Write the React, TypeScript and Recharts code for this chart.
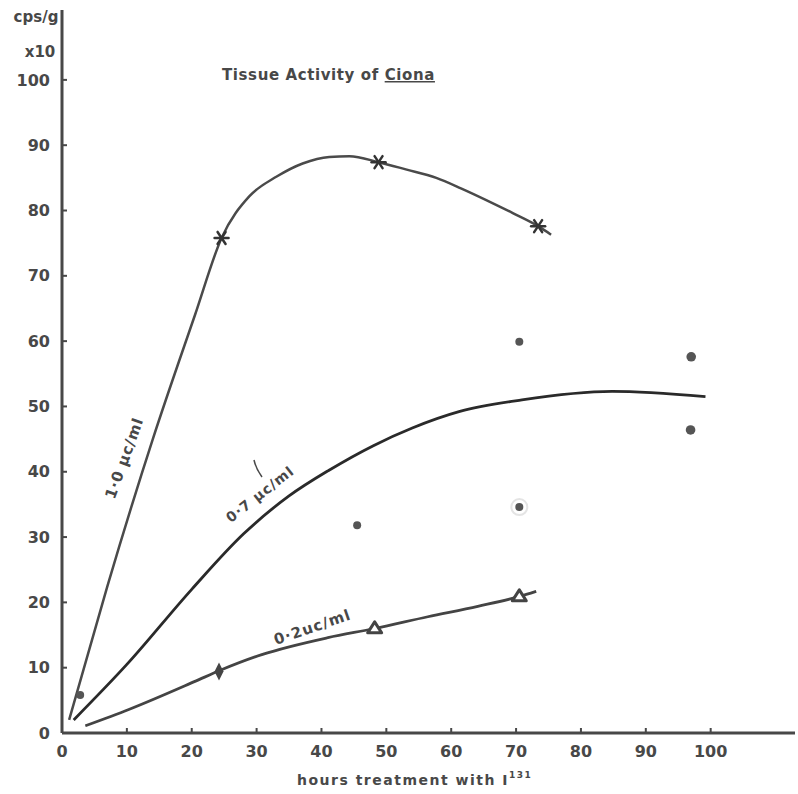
import { ComposedChart, Line, Scatter, XAxis, YAxis } from 'recharts';

// hours after start of treatment vs tissue activity (cps/g x10)
const curveHigh = [
  { x: 1.1, y: 2 }, { x: 7, y: 22.5 }, { x: 14, y: 45 }, { x: 20.5, y: 64 },
  { x: 24.6, y: 75.8 }, { x: 28.9, y: 82.2 }, { x: 33.1, y: 85.2 }, { x: 37.1, y: 87.2 },
  { x: 41.2, y: 88.2 }, { x: 44.3, y: 88.3 }, { x: 48.8, y: 87.4 }, { x: 53, y: 86.3 },
  { x: 57.7, y: 85 }, { x: 61.5, y: 83.4 }, { x: 65.4, y: 81.6 }, { x: 69.5, y: 79.6 },
  { x: 73.4, y: 77.6 }, { x: 75.4, y: 76.3 },
];
const curveMid = [
  { x: 1.8, y: 2 }, { x: 10, y: 10.5 }, { x: 20, y: 22 }, { x: 28, y: 30.5 },
  { x: 35, y: 36.3 }, { x: 41.1, y: 40.2 }, { x: 48, y: 44 }, { x: 54, y: 46.7 },
  { x: 61.2, y: 49.2 }, { x: 70.9, y: 51 }, { x: 84.8, y: 52.3 }, { x: 99.2, y: 51.5 },
];
const curveLow = [
  { x: 3.6, y: 1.1 }, { x: 10.3, y: 3.6 }, { x: 20.5, y: 7.9 }, { x: 24.4, y: 9.6 },
  { x: 30.8, y: 12 }, { x: 41, y: 14.6 }, { x: 48.2, y: 16 }, { x: 56.4, y: 17.8 },
  { x: 64.1, y: 19.4 }, { x: 70.5, y: 20.9 }, { x: 73.1, y: 21.7 },
];

const starPoints = [{ x: 24.6, y: 75.8 }, { x: 48.8, y: 87.4 }, { x: 73.4, y: 77.6 }];
const trianglePoints = [{ x: 48.2, y: 16.1 }, { x: 70.5, y: 21 }];
const diamondPoints = [{ x: 24.2, y: 9.4 }];
const dotPoints = [
  { x: 2.8, y: 5.8 }, { x: 45.5, y: 31.8 }, { x: 70.5, y: 59.9 },
  { x: 70.5, y: 34.6 }, { x: 97, y: 57.6 }, { x: 96.9, y: 46.4 },
];

const xTicks = [0, 10, 20, 30, 40, 50, 60, 70, 80, 90, 100];
const yTicks = [0, 10, 20, 30, 40, 50, 60, 70, 80, 90, 100];

const INK = '#484848';
const FONT = '"DejaVu Sans", sans-serif';

const Star = ({ cx, cy }: any) => (
  <g stroke="#333" strokeWidth={2.5} strokeLinecap="round">
    <line x1={cx - 7} y1={cy} x2={cx + 7} y2={cy} />
    <line x1={cx - 4} y1={cy - 6} x2={cx + 4} y2={cy + 6} />
    <line x1={cx + 4} y1={cy - 6} x2={cx - 4} y2={cy + 6} />
  </g>
);

const Triangle = ({ cx, cy }: any) => (
  <path d={`M${cx},${cy - 6} L${cx + 7},${cy + 5} L${cx - 7},${cy + 5} Z`} fill="#fff" stroke="#444" strokeWidth={3} strokeLinejoin="round" />
);

const Diamond = ({ cx, cy }: any) => (
  <path d={`M${cx},${cy - 9} L${cx + 4.5},${cy} L${cx},${cy + 9} L${cx - 4.5},${cy} Z`} fill="#444" />
);

const Dot = ({ cx, cy, index }: any) => (
  <g>
    {index === 3 && <circle cx={cx} cy={cy} r={8} fill="none" stroke="#e4e4e4" strokeWidth={2} />}
    <circle cx={cx} cy={cy} r={index >= 4 ? 4.8 : 4} fill="#555" />
  </g>
);

const tickStyle = { fill: INK, fontFamily: FONT, fontWeight: 700, fontSize: 16 };

export default function App() {
  return (
    <div style={{ position: 'absolute', left: 0, top: 0, width: 798, height: 794, background: '#fff' }}>
      <ComposedChart width={798} height={794} margin={{ top: 10, right: 3, bottom: 0, left: 0 }}>
        <XAxis
          type="number"
          dataKey="x"
          domain={[0, 113]}
          ticks={xTicks}
          allowDataOverflow
          height={61}
          tickSize={-5}
          tickMargin={18}
          tick={tickStyle}
          axisLine={{ stroke: INK, strokeWidth: 3 }}
          tickLine={{ stroke: INK, strokeWidth: 2 }}
        />
        <YAxis
          type="number"
          dataKey="y"
          domain={[0, 110.7]}
          ticks={yTicks}
          allowDataOverflow
          width={62}
          tickSize={-5}
          tickMargin={17}
          tick={tickStyle}
          axisLine={{ stroke: INK, strokeWidth: 3 }}
          tickLine={{ stroke: INK, strokeWidth: 2 }}
        />
        <Line data={curveHigh} dataKey="y" type="monotone" stroke="#4a4a4a" strokeWidth={2.5} dot={false} isAnimationActive={false} />
        <Line data={curveMid} dataKey="y" type="monotone" stroke="#2a2a2a" strokeWidth={2.8} dot={false} isAnimationActive={false} />
        <Line data={curveLow} dataKey="y" type="monotone" stroke="#444" strokeWidth={2.8} dot={false} isAnimationActive={false} />
        <Scatter data={starPoints} shape={<Star />} isAnimationActive={false} />
        <Scatter data={trianglePoints} shape={<Triangle />} isAnimationActive={false} />
        <Scatter data={diamondPoints} shape={<Diamond />} isAnimationActive={false} />
        <Scatter data={dotPoints} shape={(p: any) => <Dot {...p} />} isAnimationActive={false} />
      </ComposedChart>
      <svg width={798} height={794} style={{ position: 'absolute', left: 0, top: 0, pointerEvents: 'none' }}>
        <g fill={INK} fontFamily={FONT} fontWeight={700}>
          <text x={36} y={22} fontSize={15} textAnchor="middle">cps/g</text>
          <text x={40} y={57} fontSize={15} textAnchor="middle">x10</text>
          <text x={222} y={80} fontSize={15} letterSpacing={0.6}>
            Tissue Activity of <tspan textDecoration="underline">Ciona</tspan>
          </text>
          <text x={297} y={785} fontSize={14} letterSpacing={1.5}>
            hours treatment with I<tspan fontSize={9} dy={-7}>131</tspan>
          </text>
          <text x={129} y={460} fontSize={15} letterSpacing={0.8} textAnchor="middle" transform="rotate(-70 129 460)">1·0 µc/ml</text>
          <text x={263} y={498} fontSize={14} letterSpacing={1} textAnchor="middle" transform="rotate(-38 263 498)">0·7 µc/ml</text>
          <text x={314} y={632} fontSize={15} letterSpacing={1} textAnchor="middle" transform="rotate(-19 314 632)">0·2uc/ml</text>
        </g>
        <path d="M254,460 Q256,469 262,477" stroke={INK} strokeWidth={1.5} fill="none" />
      </svg>
    </div>
  );
}
